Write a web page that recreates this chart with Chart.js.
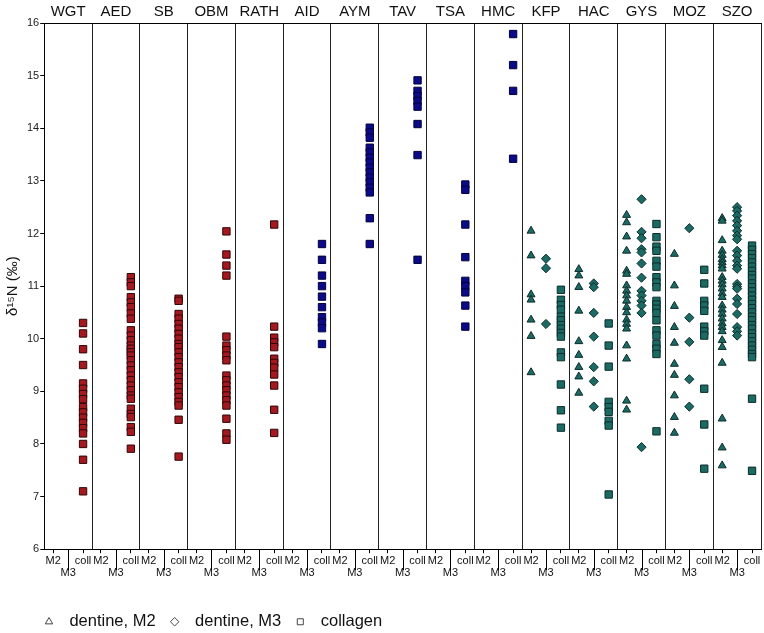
<!DOCTYPE html>
<html>
<head>
<meta charset="utf-8">
<title>delta15N by site</title>
<script src="https://cdn.jsdelivr.net/npm/chart.js@4.4.1/dist/chart.umd.min.js"></script>
<style>
    html, body { margin: 0; padding: 0; background: #fff; }
    #wrap { width: 764px; height: 633px; }
</style>
</head>
<body>
<div id="wrap"><canvas id="isoChart"></canvas></div>
<script>
// Sites (panel headers) and their colour group
const sites = ['WGT', 'AED', 'SB', 'OBM', 'RATH', 'AID', 'AYM', 'TAV', 'TSA', 'HMC', 'KFP', 'HAC', 'GYS', 'MOZ', 'SZO'];
const siteGroup = [0, 0, 0, 0, 0, 1, 1, 1, 1, 1, 2, 2, 2, 2, 2];
const categories = ['M2', 'M3', 'coll'];
const yMin = 6;
const yMax = 16;

// d15N values per site, dentine M2
const m2Values = [
    [], [], [], [], [], [], [], [], [], [],
    [12.05, 11.58, 10.84, 10.74, 10.36, 10.05, 9.36],
    [11.32, 11.2, 10.98, 10.53, 9.95, 9.69, 9.46, 9.28, 8.97],
    [12.35, 12.21, 11.94, 11.67, 11.29, 11.23, 11.01, 10.91, 10.82, 10.72, 10.6, 10.5, 10.36, 10.28, 10.19, 9.87, 9.62, 8.82, 8.65],
    [11.61, 11.01, 10.62, 10.22, 9.92, 9.52, 9.31, 8.92, 8.51, 8.21],
    [12.29, 12.24, 11.87, 11.67, 11.59, 11.51, 11.45, 11.39, 11.33, 11.17, 11.1, 11.03, 10.95, 10.86, 10.79, 10.63, 10.55, 10.47, 10.38, 10.29, 10.22, 10.14, 9.97, 9.84, 9.54, 8.48, 7.93, 7.59]
];

// dentine M3
const m3Values = [
    [], [], [], [], [], [], [], [], [], [],
    [11.52, 11.34, 10.28],
    [11.05, 10.98, 10.49, 10.04, 9.46, 9.19, 8.71],
    [12.65, 12.03, 11.91, 11.7, 11.64, 11.43, 11.16, 10.91, 10.82, 10.72, 10.63, 10.49, 7.94],
    [12.1, 10.4, 9.94, 9.23, 8.71],
    [12.5, 12.43, 12.34, 12.24, 12.15, 12.05, 11.96, 11.89, 11.67, 11.58, 11.48, 11.39, 11.33, 11.04, 10.99, 10.95, 10.76, 10.66, 10.47, 10.22, 10.14, 10.06]
];

// bone collagen
const collValues = [
    [10.3, 10.1, 9.8, 9.5, 9.15, 9.05, 8.95, 8.85, 8.7, 8.6, 8.5, 8.4, 8.3, 8.2, 8.0, 7.7, 7.1],
    [11.17, 11.07, 11.0, 10.79, 10.69, 10.6, 10.48, 10.38, 10.16, 10.06, 9.97, 9.87, 9.81, 9.74, 9.68, 9.59, 9.49, 9.4, 9.3, 9.21, 9.11, 9.02, 8.92, 8.86, 8.67, 8.57, 8.51, 8.32, 8.23, 7.91],
    [10.76, 10.72, 10.47, 10.38, 10.28, 10.19, 10.09, 10.0, 9.9, 9.84, 9.74, 9.65, 9.55, 9.46, 9.36, 9.27, 9.17, 9.08, 8.98, 8.89, 8.8, 8.73, 8.46, 7.76],
    [12.04, 11.6, 11.39, 11.2, 10.04, 9.87, 9.78, 9.68, 9.59, 9.3, 9.21, 9.11, 9.02, 8.92, 8.83, 8.73, 8.48, 8.2, 8.08],
    [12.17, 10.23, 10.02, 9.93, 9.84, 9.62, 9.54, 9.45, 9.32, 9.11, 8.65, 8.21],
    [11.8, 11.5, 11.2, 11.0, 10.8, 10.6, 10.41, 10.31, 10.2, 9.9],
    [14.01, 13.92, 13.82, 13.63, 13.54, 13.44, 13.35, 13.25, 13.16, 13.06, 12.97, 12.87, 12.78, 12.29, 11.8],
    [14.91, 14.71, 14.61, 14.52, 14.41, 14.08, 13.49, 11.5],
    [12.93, 12.83, 12.17, 11.55, 11.1, 11.0, 10.88, 10.63, 10.23],
    [15.79, 15.2, 14.71, 13.42],
    [10.93, 10.74, 10.64, 10.55, 10.42, 10.35, 10.26, 10.19, 10.11, 10.04, 9.74, 9.65, 9.13, 8.64, 8.31],
    [10.29, 9.87, 9.47, 8.8, 8.7, 8.61, 8.44, 8.35, 7.04],
    [12.18, 11.93, 11.75, 11.67, 11.48, 11.37, 11.17, 11.07, 10.98, 10.72, 10.65, 10.57, 10.49, 10.35, 10.16, 10.06, 9.9, 9.81, 9.71, 8.24],
    [11.31, 11.05, 10.72, 10.63, 10.53, 10.23, 10.14, 10.06, 9.05, 8.37, 7.53],
    [11.77, 11.69, 11.61, 11.53, 11.45, 11.37, 11.29, 11.21, 11.14, 11.05, 10.98, 10.9, 10.82, 10.74, 10.66, 10.58, 10.5, 10.42, 10.35, 10.26, 10.19, 10.1, 10.03, 9.95, 9.87, 9.79, 9.71, 9.65, 8.86, 7.49]
];

// colours per group: red (first sites), navy, teal
const groupFill = ['#a3191f', '#0b0b8a', '#1c6a64'];
const groupBorder = ['#300606', '#02023a', '#0b2d2a'];

const FONT = 'Arial, "Liberation Sans", sans-serif';
const PANEL = 3.2;   // width of one site panel in x units
const PAD = 0.6;     // gap between panel edge and first category

// turn per-site lists into scatter points
function buildPoints(values, cat) {
    const pts = [], fill = [], border = [];
    values.forEach(function(list, i) {
        list.forEach(function(v) {
            pts.push({ x: i * PANEL + PAD + cat, y: v });
            fill.push(groupFill[siteGroup[i]]);
            border.push(groupBorder[siteGroup[i]]);
        });
    });
    return { pts: pts, fill: fill, border: border };
}

// bottom axis ticks: panel boundaries + the three categories
const xTicks = [];
const xTickLabels = [];
const xTickKind = [];
for (let i = 0; i <= sites.length; i++) {
    xTicks.push(i * PANEL); xTickLabels.push(''); xTickKind.push('edge');
    if (i < sites.length) {
        categories.forEach(function(c, k) {
            xTicks.push(i * PANEL + PAD + k);
            xTickLabels.push(k === 1 ? ['', c] : c);
            xTickKind.push(c);
        });
    }
}

const m2 = buildPoints(m2Values, 0);
const m3 = buildPoints(m3Values, 1);
const coll = buildPoints(collValues, 2);

// longer tick mark under each M3 label
const m3TickPlugin = {
    id: 'm3Ticks',
    afterDraw(chart) {
        const xs = chart.scales.x;
        const ctx = chart.ctx;
        ctx.save();
        ctx.strokeStyle = '#000';
        ctx.lineWidth = 1;
        xTicks.forEach(function(v, i) {
            if (xTickKind[i] !== 'M3') return;
            const px = Math.round(xs.getPixelForValue(v)) + 0.5;
            ctx.beginPath();
            ctx.moveTo(px, xs.top);
            ctx.lineTo(px, xs.top + 21);
            ctx.stroke();
        });
        ctx.restore();
    }
};

// legend sits left under the plot
const legendShift = {
    id: 'legendShift',
    afterLayout(chart) {
        const lg = chart.legend;
        if (!lg) return;
        lg.left += 26; lg.right += 26;
        lg.top += 17; lg.bottom += 17;
    }
};

const ctx = document.getElementById('isoChart').getContext('2d');
new Chart(ctx, {
    type: 'scatter',
    data: {
        datasets: [
            {
                label: 'dentine, M2',
                data: m2.pts,
                pointStyle: 'triangle',
                pointRadius: 4.6,
                backgroundColor: m2.fill,
                borderColor: m2.border,
                borderWidth: 1
            },
            {
                label: 'dentine, M3',
                data: m3.pts,
                pointStyle: 'rectRot',
                pointRadius: 4.6,
                backgroundColor: m3.fill,
                borderColor: m3.border,
                borderWidth: 1
            },
            {
                label: 'collagen',
                data: coll.pts,
                pointStyle: 'rect',
                pointRadius: 5.2,
                backgroundColor: coll.fill,
                borderColor: coll.border,
                borderWidth: 1
            }
        ]
    },
    options: {
        responsive: true,
        maintainAspectRatio: false,
        animation: false,
        layout: { autoPadding: false, padding: { left: 4, right: 3, top: 1, bottom: 10 } },
        plugins: {
            tooltip: { enabled: false },
            legend: {
                position: 'bottom',
                align: 'start',
                labels: {
                    usePointStyle: true,
                    boxWidth: 6,
                    boxHeight: 6,
                    padding: 16,
                    color: '#111',
                    font: { family: FONT, size: 16.5 },
                    generateLabels(chart) {
                        return chart.data.datasets.map(function(ds, i) {
                            return {
                                text: '  ' + ds.label,
                                pointStyle: ds.pointStyle,
                                fillStyle: '#fff',
                                strokeStyle: '#444',
                                lineWidth: 1,
                                fontColor: '#111',
                                datasetIndex: i,
                                hidden: false
                            };
                        });
                    }
                }
            }
        },
        scales: {
            x: {
                type: 'linear',
                position: 'bottom',
                min: 0,
                max: sites.length * PANEL,
                afterBuildTicks(scale) {
                    scale.ticks = xTicks.map(function(v) { return { value: v }; });
                },
                ticks: {
                    autoSkip: false,
                    maxRotation: 0,
                    padding: 1,
                    color: '#111',
                    font: { family: FONT, size: 11, lineHeight: 1.15 },
                    callback: function(v, i) { return xTickLabels[i]; }
                },
                grid: {
                    tickLength: 4,
                    color: function(c) { return xTickKind[c.index] === 'edge' ? '#222' : 'rgba(0,0,0,0)'; },
                    tickColor: function(c) { return xTickKind[c.index] === 'edge' || xTickKind[c.index] === 'M3' ? 'rgba(0,0,0,0)' : '#000'; },
                    lineWidth: 1
                },
                border: { display: true, color: '#000' }
            },
            xTop: {
                type: 'linear',
                position: 'top',
                min: 0,
                max: sites.length * PANEL,
                afterBuildTicks(scale) {
                    scale.ticks = sites.map(function(s, i) { return { value: i * PANEL + PANEL / 2 }; });
                },
                ticks: {
                    autoSkip: false,
                    maxRotation: 0,
                    padding: 2,
                    color: '#111',
                    font: { family: FONT, size: 15 },
                    callback: function(v, i) { return sites[i]; }
                },
                grid: { drawOnChartArea: false, drawTicks: false },
                border: { display: true, color: '#000' }
            },
            y: {
                min: yMin,
                max: yMax,
                ticks: {
                    stepSize: 1,
                    padding: 1,
                    color: '#222',
                    font: { family: FONT, size: 11 }
                },
                grid: { drawOnChartArea: false, tickLength: 4, tickColor: '#000' },
                border: { display: true, color: '#000' },
                title: {
                    display: true,
                    text: 'δ¹⁵N (‰)',
                    color: '#111',
                    padding: { top: 0, bottom: 4 },
                    font: { family: FONT, size: 15 }
                }
            }
        }
    },
    plugins: [m3TickPlugin, legendShift]
});
</script>
</body>
</html>
